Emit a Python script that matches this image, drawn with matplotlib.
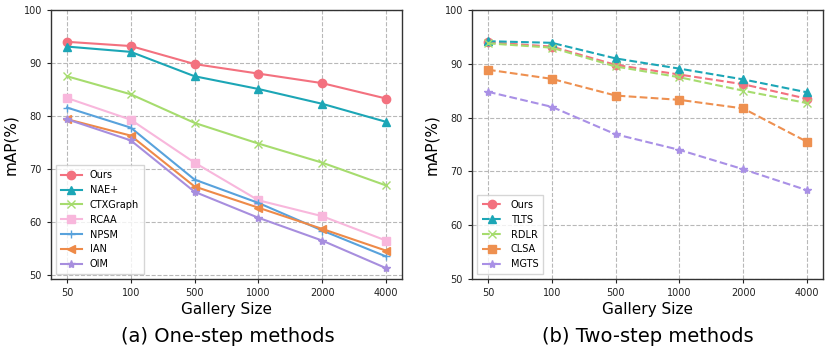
import matplotlib
matplotlib.use("Agg")
import matplotlib.pyplot as plt

# gallery sizes (x axis categories)
gallery = ["50", "100", "500", "1000", "2000", "4000"]

# (a) one-step methods
ours_a = [94.0, 93.2, 89.8, 88.0, 86.2, 83.3]
nae = [93.1, 92.1, 87.5, 85.1, 82.3, 78.9]
ctxgraph = [87.5, 84.1, 78.7, 74.8, 71.2, 66.9]
rcaa = [83.4, 79.3, 71.2, 64.1, 61.1, 56.5]
npsm = [81.6, 77.8, 68.0, 63.6, 58.4, 53.5]
ian = [79.4, 76.3, 66.7, 62.7, 58.7, 54.6]
oim = [79.4, 75.4, 65.7, 60.8, 56.5, 51.3]

# (b) two-step methods
ours_b = [94.0, 93.2, 89.8, 88.0, 86.2, 83.5]
tlts = [94.2, 93.9, 91.0, 89.1, 87.1, 84.7]
rdlr = [93.8, 93.0, 89.5, 87.5, 85.0, 82.7]
clsa = [88.9, 87.2, 84.1, 83.3, 81.7, 75.5]
mgts = [84.8, 82.0, 76.9, 74.0, 70.4, 66.5]

plt.rcParams['font.family'] = 'DejaVu Sans'

fig = plt.figure(figsize=(8.31, 3.55), dpi=100)
W, H = 831, 355
ax1 = fig.add_axes([51 / W, (H - 279) / H, 351 / W, 269 / H])
ax2 = fig.add_axes([472 / W, (H - 279) / H, 351 / W, 269 / H])

x = list(range(len(gallery)))

one_step = [
    ("Ours", ours_a, "#f3717f", "o"),
    ("NAE+", nae, "#1ca6b6", "^"),
    ("CTXGraph", ctxgraph, "#a6dc6e", "x"),
    ("RCAA", rcaa, "#f8b7dc", "s"),
    ("NPSM", npsm, "#58a2dc", "+"),
    ("IAN", ian, "#ee8a48", "<"),
    ("OIM", oim, "#a78ede", "*"),
]
two_step = [
    ("Ours", ours_b, "#f3717f", "o"),
    ("TLTS", tlts, "#1ca6b6", "^"),
    ("RDLR", rdlr, "#a6dc6e", "x"),
    ("CLSA", clsa, "#ee9050", "s"),
    ("MGTS", mgts, "#a990e6", "*"),
]

for name, vals, col, mk in one_step:
    ax1.plot(x, vals, color=col, marker=mk, markersize=6, linewidth=1.5, label=name)
for name, vals, col, mk in two_step:
    ax2.plot(x, vals, color=col, marker=mk, markersize=6, linewidth=1.5,
             linestyle='--', label=name)

for ax, ylo in [(ax1, 49.25), (ax2, 50)]:
    ax.set_ylim(ylo, 100)
    ax.set_yticks([50, 60, 70, 80, 90, 100])
    ax.set_xticks(x)
    ax.set_xticklabels(gallery)
    ax.set_xlim(-0.25, 5.25)
    ax.grid(True, linestyle='--', color='#b8b8b8', linewidth=0.8)
    ax.set_axisbelow(True)
    ax.tick_params(labelsize=7, colors='#222222', length=3)
    for s in ax.spines.values():
        s.set_color('#333333')
        s.set_linewidth(1.0)
    ax.set_xlabel("Gallery Size", fontsize=11, labelpad=3)
    ax.set_ylabel("mAP(%)", fontsize=11, labelpad=4)
    ax.legend(loc='lower left', fontsize=7, handlelength=2.2, borderpad=0.5,
              labelspacing=0.5, fancybox=False)

fig.text(228 / W, 1 - 336 / H, "(a) One-step methods", fontsize=14,
         ha='center', va='center')
fig.text(648 / W, 1 - 336 / H, "(b) Two-step methods", fontsize=14,
         ha='center', va='center')

fig.savefig("out.png", dpi=100)
